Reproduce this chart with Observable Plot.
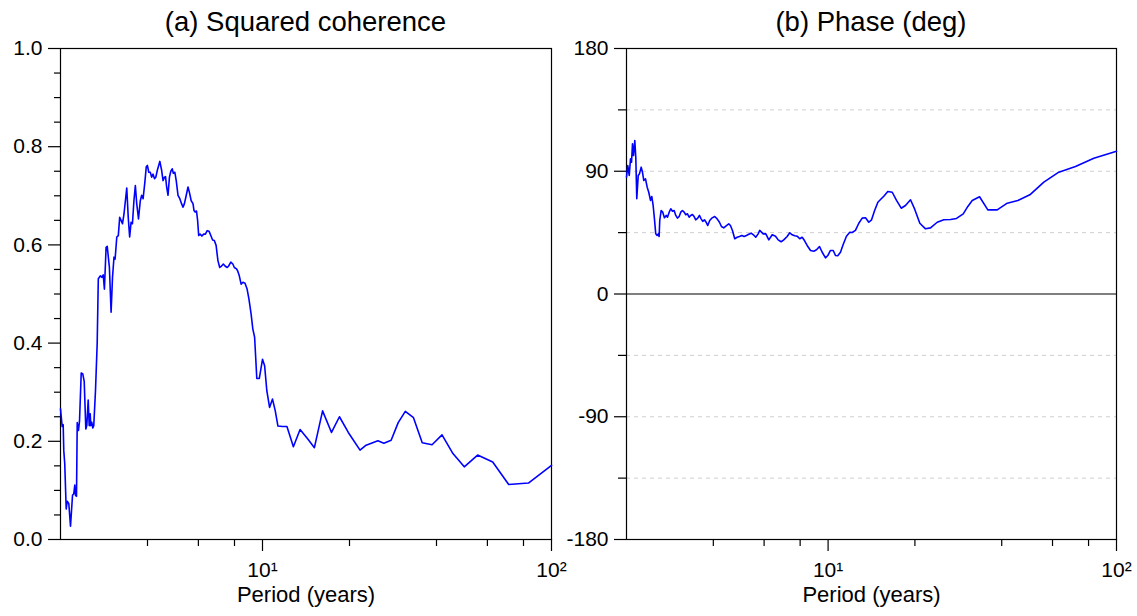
<!DOCTYPE html>
<html><head><meta charset="utf-8">
<script src="https://cdn.jsdelivr.net/npm/d3@7"></script>
<script src="https://cdn.jsdelivr.net/npm/@observablehq/plot@0.6"></script>
<style>
body{margin:0;background:#fff;font-family:"Liberation Sans",Arial,Helvetica,sans-serif;}
#wrap{position:relative;width:1137px;height:616px;overflow:hidden;}
.panel{position:absolute;top:0;}
.title{position:absolute;top:6px;font-size:27.5px;line-height:32px;text-align:center;color:#000;white-space:nowrap;}
</style></head><body>
<div id="wrap">
<div class="panel" id="pa" style="left:0px"></div>
<div class="panel" id="pb" style="left:568px"></div>
<div class="title" style="left:60px;width:491px">(a) Squared coherence</div>
<div class="title" style="left:626px;width:490px">(b) Phase (deg)</div>
</div>
<script>
// ---- data ----
const titles = ["(a) Squared coherence", "(b) Phase (deg)"];
const xLabel = "Period (years)";

const cohPeriod = [
 2.000, 2.027, 2.043, 2.053, 2.069, 2.093, 2.110, 2.137, 2.166, 2.201,
 2.223, 2.241, 2.254, 2.272, 2.285, 2.308, 2.327, 2.359, 2.389, 2.416,
 2.447, 2.466, 2.494, 2.514, 2.534, 2.546, 2.566, 2.587, 2.607, 2.643,
 2.679, 2.703, 2.749, 2.780, 2.811, 2.838, 2.876, 2.902, 2.953, 2.993,
 3.027, 3.063, 3.090, 3.132, 3.170, 3.205, 3.241, 3.277, 3.317, 3.354,
 3.391, 3.431, 3.470, 3.509, 3.548, 3.590, 3.631, 3.671, 3.723, 3.777,
 3.819, 3.862, 3.917, 3.961, 3.996, 4.041, 4.089, 4.135, 4.181, 4.228,
 4.275, 4.326, 4.413, 4.477, 4.527, 4.578, 4.618, 4.659, 4.711, 4.764,
 4.817, 4.871, 4.914, 4.973, 5.029, 5.101, 5.175, 5.246, 5.309, 5.368,
 5.428, 5.524, 5.586, 5.666, 5.748, 5.794, 5.845, 5.911, 5.963, 6.015,
 6.082, 6.170, 6.259, 6.345, 6.436, 6.529, 6.624, 6.720, 6.812, 6.910,
 7.010, 7.112, 7.215, 7.319, 7.419, 7.550, 7.635, 7.770, 7.894, 7.989,
 8.130, 8.195, 8.313, 8.433, 8.555, 8.699, 8.846, 8.974, 9.133, 9.257,
 9.391, 9.557, 9.750, 10.00, 10.17, 10.35, 10.58, 10.83, 11.07, 11.31,
 11.71, 12.15, 12.79, 13.49, 14.37, 15.12, 16.14, 17.33, 18.46, 19.81,
 21.75, 22.83, 25.08, 26.30, 27.87, 29.48, 31.20, 33.30, 35.70, 38.60,
 41.80, 45.60, 49.90, 55.50, 62.60, 71.10, 83.20, 100.0
];
const cohValue = [
 0.266, 0.230, 0.234, 0.181, 0.154, 0.062, 0.078, 0.073, 0.027, 0.090,
 0.093, 0.111, 0.090, 0.088, 0.238, 0.222, 0.241, 0.339, 0.337, 0.322,
 0.225, 0.232, 0.284, 0.232, 0.256, 0.232, 0.239, 0.227, 0.232, 0.303,
 0.399, 0.531, 0.537, 0.534, 0.539, 0.510, 0.595, 0.597, 0.554, 0.463,
 0.534, 0.575, 0.571, 0.616, 0.619, 0.656, 0.650, 0.643, 0.663, 0.690,
 0.716, 0.656, 0.616, 0.646, 0.643, 0.690, 0.721, 0.684, 0.653, 0.690,
 0.701, 0.694, 0.728, 0.759, 0.762, 0.748, 0.748, 0.738, 0.744, 0.735,
 0.738, 0.752, 0.770, 0.752, 0.731, 0.738, 0.739, 0.718, 0.701, 0.738,
 0.750, 0.755, 0.746, 0.748, 0.731, 0.701, 0.694, 0.684, 0.677, 0.684,
 0.697, 0.718, 0.707, 0.690, 0.684, 0.670, 0.667, 0.669, 0.650, 0.619,
 0.622, 0.618, 0.622, 0.622, 0.629, 0.628, 0.619, 0.610, 0.609, 0.599,
 0.568, 0.554, 0.557, 0.561, 0.557, 0.554, 0.557, 0.565, 0.561, 0.554,
 0.551, 0.548, 0.537, 0.520, 0.524, 0.522, 0.510, 0.490, 0.459, 0.429,
 0.412, 0.328, 0.328, 0.367, 0.354, 0.303, 0.269, 0.286, 0.262, 0.231,
 0.230, 0.230, 0.189, 0.224, 0.204, 0.187, 0.262, 0.218, 0.250, 0.218,
 0.182, 0.192, 0.201, 0.196, 0.202, 0.238, 0.261, 0.248, 0.197, 0.193,
 0.213, 0.175, 0.148, 0.172, 0.158, 0.112, 0.115, 0.151
];

const phasePeriod = [
 2.000, 2.021, 2.044, 2.065, 2.082, 2.098, 2.115, 2.137, 2.154, 2.171,
 2.196, 2.218, 2.249, 2.272, 2.296, 2.327, 2.359, 2.389, 2.422, 2.447,
 2.474, 2.500, 2.526, 2.554, 2.581, 2.595, 2.608, 2.637, 2.671, 2.707,
 2.746, 2.774, 2.812, 2.848, 2.887, 2.926, 2.964, 3.004, 3.045, 3.084,
 3.126, 3.169, 3.210, 3.254, 3.298, 3.340, 3.386, 3.432, 3.476, 3.532,
 3.580, 3.629, 3.676, 3.726, 3.777, 3.826, 3.887, 3.950, 4.046, 4.124,
 4.201, 4.268, 4.347, 4.442, 4.524, 4.586, 4.660, 4.746, 4.838, 4.928,
 5.019, 5.116, 5.211, 5.308, 5.410, 5.510, 5.612, 5.721, 5.794, 5.957,
 6.083, 6.230, 6.401, 6.572, 6.712, 6.875, 7.019, 7.212, 7.364, 7.506,
 7.664, 7.812, 7.976, 8.130, 8.281, 8.461, 8.691, 8.922, 9.117, 9.338,
 9.541, 9.795, 9.977, 10.19, 10.42, 10.61, 10.80, 11.04, 11.28, 11.58,
 11.89, 12.12, 12.44, 12.78, 13.13, 13.48, 13.84, 14.15, 14.50, 14.88,
 15.20, 15.60, 16.11, 16.69, 17.27, 17.93, 18.55, 19.31, 19.98, 20.80,
 21.77, 22.65, 23.90, 25.19, 26.58, 27.88, 29.42, 30.52, 31.61, 33.51,
 35.80, 38.58, 41.80, 45.50, 50.06, 55.98, 63.09, 72.08, 83.44, 100.0
];
const phaseValue = [
 85.6, 94.2, 86.9, 99.1, 96.6, 110.1, 101.5, 112.5, 100.3, 69.8,
 86.9, 88.1, 93.0, 89.3, 83.2, 84.5, 78.3, 74.6, 68.6, 71.5,
 64.9, 55.1, 44.1, 42.9, 44.1, 42.2, 53.9, 61.2, 60.0, 55.9,
 57.6, 56.3, 60.0, 62.5, 60.7, 61.2, 57.6, 55.6, 56.8, 60.0,
 61.2, 60.0, 58.1, 58.8, 56.3, 57.6, 58.3, 56.8, 54.4, 55.6,
 57.6, 55.1, 53.2, 54.4, 52.6, 50.2, 53.9, 55.6, 56.8, 55.1,
 52.6, 49.5, 48.5, 50.2, 51.4, 50.2, 46.6, 40.5, 41.6, 42.2,
 42.9, 42.2, 42.9, 43.8, 44.6, 43.4, 41.6, 44.1, 46.6, 44.1,
 44.1, 39.7, 43.4, 42.4, 39.7, 38.3, 39.7, 42.2, 44.9, 43.4,
 42.7, 42.4, 40.5, 41.6, 39.2, 35.6, 31.9, 31.4, 32.4, 34.8,
 30.6, 26.5, 28.2, 31.9, 31.9, 28.2, 28.0, 30.6, 36.3, 42.4,
 45.3, 45.1, 46.6, 51.9, 55.6, 55.9, 52.6, 54.4, 61.2, 67.3,
 69.3, 71.7, 75.2, 74.6, 68.6, 62.9, 64.9, 69.1, 62.0, 51.9,
 47.8, 48.5, 52.6, 54.4, 54.6, 55.4, 58.8, 64.2, 68.6, 71.3,
 61.7, 61.7, 66.6, 68.6, 72.7, 82.0, 89.3, 93.5, 99.6, 104.7
];

const xMajorTicks = [10, 100];
const xMajorLabels = ["10\u00B9", "10\u00B2"];
const xMinorTicks = [4, 6, 8, 20, 40, 60, 80];
const cohMajorTicks = [0, 0.2, 0.4, 0.6, 0.8, 1.0];
const cohMajorLabels = ["0.0", "0.2", "0.4", "0.6", "0.8", "1.0"];
const cohMinorTicks = [0.05,0.1,0.15,0.25,0.3,0.35,0.45,0.5,0.55,0.65,0.7,0.75,0.85,0.9,0.95];
const phaseMajorTicks = [-180, -90, 0, 90, 180];
const phaseMajorLabels = ["-180", "-90", "0", "90", "180"];
const phaseMinorTicks = [-135, -45, 45, 135];
const phaseGrid = [-135, -90, -45, 45, 90, 135];

// ---- build tables ----
const cohData = cohPeriod.map((p, i) => ({period: p, value: cohValue[i]}));
const phaseData = phasePeriod.map((p, i) => ({period: p, value: phaseValue[i]}));

const font = '"Liberation Sans", Arial, Helvetica, sans-serif';
const baseStyle = {background: "transparent", overflow: "visible", fontSize: "21px", fontFamily: font, color: "#000"};
const xFmt = d => xMajorLabels[xMajorTicks.indexOf(d)];

function xAxes() {
  return [
    Plot.axisX(xMinorTicks, {tickSize: 7, tickFormat: () => "", label: null, strokeWidth: 1.2}),
    Plot.axisX(xMajorTicks, {tickSize: 12, tickPadding: 11, tickFormat: xFmt, label: null, strokeWidth: 1.2}),
    Plot.text([xLabel], {frameAnchor: "bottom", dy: 62, text: d => d, fontSize: 22, fill: "#000"})
  ];
}

const chartA = Plot.plot({
  width: 568, height: 616,
  marginLeft: 60, marginRight: 17, marginTop: 48, marginBottom: 77,
  style: baseStyle,
  x: {type: "log", domain: [2, 100]},
  y: {domain: [0, 1]},
  marks: [
    Plot.frame({stroke: "#000", strokeWidth: 1.2}),
    ...xAxes(),
    Plot.axisY(cohMinorTicks, {tickSize: 6, tickFormat: () => "", label: null, strokeWidth: 1.2}),
    Plot.axisY(cohMajorTicks, {tickSize: 12, tickPadding: 6, tickFormat: d => cohMajorLabels[cohMajorTicks.indexOf(d)], label: null, strokeWidth: 1.2}),
    Plot.line(cohData, {x: "period", y: "value", stroke: "#0000ff", strokeWidth: 1.6})
  ]
});
document.getElementById("pa").appendChild(chartA);

const chartB = Plot.plot({
  width: 569, height: 616,
  marginLeft: 58, marginRight: 21, marginTop: 48, marginBottom: 77,
  style: baseStyle,
  x: {type: "log", domain: [2, 100]},
  y: {domain: [-180, 180]},
  marks: [
    Plot.ruleY(phaseGrid, {stroke: "#cfcfcf", strokeDasharray: "4,4", strokeWidth: 1}),
    Plot.ruleY([0], {stroke: "#000", strokeWidth: 1.2}),
    Plot.frame({stroke: "#000", strokeWidth: 1.2}),
    ...xAxes(),
    Plot.axisY(phaseMinorTicks, {tickSize: 8, tickFormat: () => "", label: null, strokeWidth: 1.2}),
    Plot.axisY(phaseMajorTicks, {tickSize: 12, tickPadding: 6, tickFormat: d => phaseMajorLabels[phaseMajorTicks.indexOf(d)], label: null, strokeWidth: 1.2}),
    Plot.line(phaseData, {x: "period", y: "value", stroke: "#0000ff", strokeWidth: 1.6})
  ]
});
document.getElementById("pb").appendChild(chartB);
</script>
</body></html>
